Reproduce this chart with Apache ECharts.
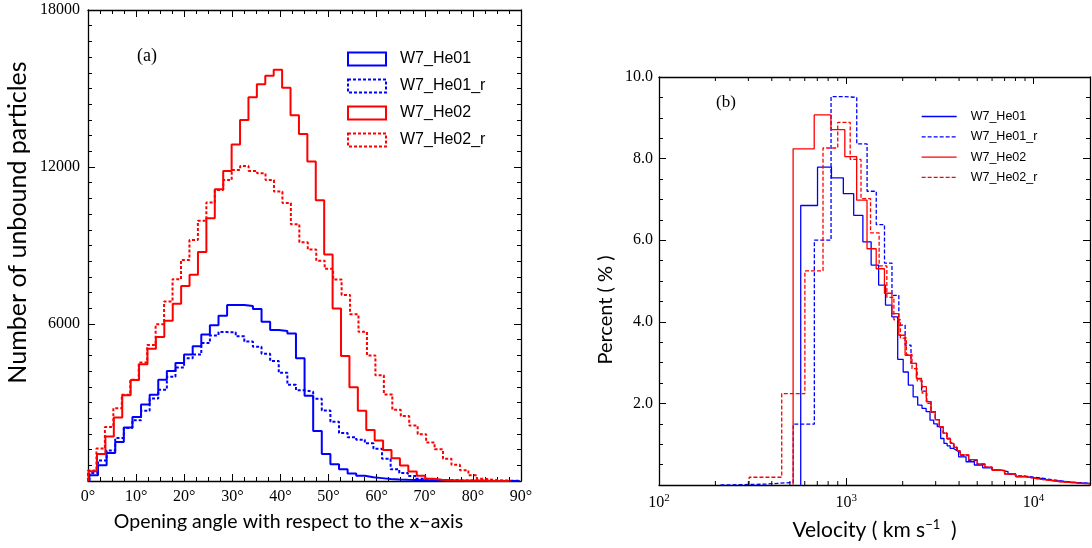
<!DOCTYPE html>
<html>
<head>
<meta charset="utf-8">
<script src="https://cdn.jsdelivr.net/npm/echarts@6/dist/echarts.min.js"></script>
<style>
  html, body { margin: 0; padding: 0; background: #fff; }
  #chart { width: 1092px; height: 548px; }
</style>
</head>
<body>
<div id="chart"></div>
<script>
// ---- panel (a): number of unbound particles per opening-angle bin (deg) ----
const angleStartHe01 = 0.29, angleWidthHe01 = 1.789
const angleStartHe02 = 0.12, angleWidthHe02 = 1.749
const angleStartHe02r = 0, angleWidthHe02r = 1.757

const countsHe01 = [220, 600, 1070, 1490, 2040, 2450, 2920, 3300, 3870, 4200, 4510, 4830, 5150, 5600, 5950, 6320, 6730, 6730, 6690, 6570, 6090, 5770, 5730, 5640, 4690, 3260, 1910, 1030, 640, 450, 290, 200, 140, 110, 80, 60, 45, 35, 25, 20, 15, 12, 10, 8, 6, 5, 4, 3, 2, 2]
const countsHe01r = [310, 780, 1170, 1640, 2030, 2320, 2680, 3150, 3490, 3980, 4340, 4690, 4830, 5270, 5560, 5690, 5680, 5530, 5330, 5130, 4860, 4590, 4135, 3675, 3470, 3410, 3140, 2695, 2260, 1830, 1670, 1580, 1440, 1230, 850, 450, 305, 190, 90, 50, 35, 30, 25, 20, 18, 15, 12, 10, 8, 5]
const countsHe02 = [370, 1030, 1700, 2430, 3280, 3860, 4460, 5050, 5500, 6120, 6770, 7450, 7880, 8750, 10040, 11150, 11850, 12860, 13800, 14670, 15160, 15490, 15720, 15030, 13980, 13260, 12210, 10730, 8660, 6590, 4780, 3580, 2680, 1950, 1550, 1180, 870, 590, 360, 200, 90, 50, 25, 15, 10, 5, 5, 3, 2, 1]
const countsHe02r = [400, 1240, 2060, 2780, 3300, 3870, 4530, 5200, 5990, 6860, 7710, 8450, 9210, 9950, 10640, 11120, 11500, 11890, 12040, 11850, 11760, 11500, 11060, 10620, 9810, 9120, 8850, 8420, 8110, 7700, 7110, 6370, 5700, 4800, 4040, 3310, 2720, 2480, 2120, 1790, 1470, 1210, 850, 620, 410, 220, 85, 40, 20, 10]

// ---- panel (b): percent per velocity bin (km/s), bin edges + values ----
const velEdgesHe01 = [571, 702, 833, 964, 1095, 1226, 1357, 1488, 1619, 1750, 1881, 2012, 2143, 2274, 2405, 2536, 2667, 2798, 2929, 3060, 3191, 3322, 3453, 3584, 3715, 3846, 3977, 4358, 4828, 5346, 6000, 6557, 7300, 8045, 9000, 9870, 11000, 12100, 13500, 14860, 16500, 18220, 20000]
const pctHe01 = [6.85, 7.79, 7.53, 7.14, 6.61, 5.96, 5.39, 4.9, 4.41, 4.12, 3.08, 2.77, 2.45, 2.16, 1.96, 1.88, 1.8, 1.59, 1.5, 1.43, 1.14, 1.02, 0.96, 0.9, 0.86, 0.82, 0.69, 0.57, 0.49, 0.42, 0.37, 0.33, 0.26, 0.2, 0.18, 0.16, 0.12, 0.1, 0.08, 0.065, 0.05, 0.04]
const velEdgesHe01r = [213, 367, 521, 675, 829, 983, 1137, 1291, 1445, 1599, 1753, 1907, 2061, 2215, 2369, 2523, 2677, 2831, 2985, 3139, 3293, 3447, 3601, 3755, 3909, 4063, 4500, 5000, 5500, 6000, 7000, 8000, 9000, 10000, 11000, 12500, 14000, 16000, 18000, 20000]
const pctHe01r = [0.02, 0.065, 1.49, 6.0, 9.52, 9.5, 8.36, 7.2, 6.38, 5.44, 4.65, 3.92, 3.43, 2.98, 2.6, 2.3, 2.05, 1.8, 1.6, 1.42, 1.27, 1.13, 1.02, 0.92, 0.83, 0.72, 0.6, 0.5, 0.43, 0.36, 0.28, 0.22, 0.19, 0.17, 0.13, 0.1, 0.07, 0.05, 0.04]
const velEdgesHe02 = [520, 674, 828, 982, 1136, 1290, 1444, 1598, 1752, 1906, 2060, 2214, 2368, 2522, 2676, 2830, 2984, 3138, 3292, 3446, 3600, 3754, 3908, 4062, 4500, 5000, 5500, 6000, 7000, 8000, 9000, 10000, 11000, 12500, 14000, 16000, 18000, 20000]
const pctHe02 = [8.24, 9.07, 8.71, 8.05, 6.98, 5.79, 5.3, 4.7, 4.2, 3.67, 3.18, 2.98, 2.61, 2.41, 2.04, 1.8, 1.6, 1.42, 1.27, 1.13, 1.02, 0.92, 0.83, 0.74, 0.62, 0.52, 0.44, 0.36, 0.27, 0.21, 0.17, 0.14, 0.11, 0.08, 0.06, 0.04, 0.03]
const velEdgesHe02r = [303, 452, 601, 751, 900, 1049, 1198, 1347, 1497, 1646, 1795, 1944, 2093, 2243, 2392, 2541, 2690, 2839, 2989, 3138, 3287, 3436, 3585, 3735, 3884, 4033, 4500, 5000, 5500, 6000, 7000, 8000, 9000, 10000, 11000, 12500, 14000, 16000, 18000, 20000]
const pctHe02r = [0.19, 2.24, 5.25, 8.26, 8.89, 7.98, 7.02, 6.18, 5.37, 4.6, 4.05, 3.6, 3.2, 2.85, 2.55, 2.25, 2.0, 1.78, 1.6, 1.43, 1.28, 1.15, 1.04, 0.93, 0.84, 0.74, 0.62, 0.52, 0.44, 0.36, 0.27, 0.21, 0.17, 0.14, 0.11, 0.08, 0.06, 0.04, 0.03]

// log-axis minor tick positions (2..9 x 10^k)
const velMinorTicks = [200, 300, 400, 500, 600, 700, 800, 900, 2000, 3000, 4000, 5000, 6000, 7000, 8000, 9000]

const names = ['W7_He01', 'W7_He01_r', 'W7_He02', 'W7_He02_r']
const BLUE = '#0000ff'
const RED = '#ff0000'
const SERIF = 'Liberation Serif'
const SANS = 'Lato'

// histogram outline (step) from uniform bins
const stepUniform = (start, width, counts) => {
  const pts = [[start, 0]]
  counts.forEach((c, i) => {
    pts.push([start + i * width, c], [start + (i + 1) * width, c])
  })
  pts.push([start + counts.length * width, 0])
  return pts
}

// histogram outline (step) from explicit edges
const stepEdges = (edges, vals) => {
  const pts = [[edges[0], 0]]
  vals.forEach((v, i) => {
    pts.push([edges[i], v], [edges[i + 1], v])
  })
  return pts
}

const chart = echarts.init(document.getElementById('chart'))

const frameAxis = {
  axisLine: { show: true, onZero: false, lineStyle: { color: '#000', width: 1.3 } },
  splitLine: { show: false },
}
const majorTick = { inside: true, length: 7, lineStyle: { color: '#000', width: 1 } }

const lineSeries = (name, data, color, dash, width, xi, yi) => ({
  name,
  type: 'line',
  data,
  xAxisIndex: xi,
  yAxisIndex: yi,
  symbol: 'none',
  silent: true,
  animation: false,
  clip: true,
  lineStyle: { color, width, type: dash },
})

const option = {
  animation: false,
  grid: [
    { left: 88, right: 571, top: 10, bottom: 67 },
    { left: 659, right: 2, top: 77, bottom: 63 },
  ],
  xAxis: [
    {
      ...frameAxis, type: 'value', gridIndex: 0, min: 0, max: 90, interval: 10,
      axisTick: majorTick,
      minorTick: { show: true, splitNumber: 4, length: 4, lineStyle: { color: '#000' } },
      axisLabel: { margin: 8, fontFamily: SERIF, fontSize: 16, color: '#000', formatter: (v) => v + '°' },
      name: 'Opening angle with respect to the x\u2212axis',
      nameLocation: 'middle', nameGap: 31,
      nameTextStyle: { fontFamily: SANS, fontSize: 19.5, color: '#000', padding: [0, 32, 0, 0] },
    },
    {
      ...frameAxis, type: 'value', gridIndex: 0, position: 'top', min: 0, max: 90, interval: 10,
      axisTick: majorTick,
      minorTick: { show: true, splitNumber: 4, length: 4, lineStyle: { color: '#000' } },
      axisLabel: { show: false },
    },
    {
      ...frameAxis, type: 'log', logBase: 10, gridIndex: 1, min: 100, max: 20000,
      axisTick: majorTick,
      axisLabel: {
        margin: 8, fontFamily: SERIF, fontSize: 16, color: '#000', showMaxLabel: false,
        formatter: (v) => {
          const k = Math.round(Math.log10(v))
          return Math.abs(Math.pow(10, k) - v) < 1e-6 * v ? '10{sup|' + k + '}' : ''
        },
        rich: { sup: { fontFamily: SERIF, fontSize: 11, color: '#000', verticalAlign: 'top', padding: [0, 0, 9, 0] } },
      },
      name: 'Velocity ( km s{sup|\u22121}  )',
      nameLocation: 'middle', nameGap: 33,
      nameTextStyle: {
        fontFamily: SANS, fontSize: 21, color: '#000',
        rich: { sup: { fontFamily: SANS, fontSize: 13, color: '#000', verticalAlign: 'top', padding: [0, 0, 11, 0] } },
      },
    },
    {
      ...frameAxis, type: 'log', logBase: 10, gridIndex: 1, position: 'top', min: 100, max: 20000,
      axisTick: majorTick,
      axisLabel: { show: false },
    },
  ],
  yAxis: [
    {
      ...frameAxis, type: 'value', gridIndex: 0, min: 0, max: 18000, interval: 6000,
      axisTick: majorTick,
      minorTick: { show: true, splitNumber: 10, length: 4, lineStyle: { color: '#000' } },
      axisLabel: { margin: 8, fontFamily: SERIF, fontSize: 16, color: '#000', formatter: (v) => (v === 0 ? '' : String(v)) },
      name: 'Number of unbound particles',
      nameLocation: 'middle', nameGap: 58,
      nameTextStyle: { fontFamily: SANS, fontSize: 25, color: '#000', padding: [0, 0, 0, 46] },
    },
    {
      ...frameAxis, type: 'value', gridIndex: 0, position: 'right', min: 0, max: 18000, interval: 6000,
      axisTick: majorTick,
      minorTick: { show: true, splitNumber: 10, length: 4, lineStyle: { color: '#000' } },
      axisLabel: { show: false },
    },
    {
      ...frameAxis, type: 'value', gridIndex: 1, min: 0, max: 10, interval: 2,
      axisTick: majorTick,
      minorTick: { show: true, splitNumber: 4, length: 4, lineStyle: { color: '#000' } },
      axisLabel: { margin: 6, fontFamily: SERIF, fontSize: 16, color: '#000', formatter: (v) => (v === 0 ? '' : v.toFixed(1)) },
      name: 'Percent ( % )',
      nameLocation: 'middle', nameGap: 43,
      nameTextStyle: { fontFamily: SANS, fontSize: 20, color: '#000', padding: [0, 58, 0, 0] },
    },
    {
      ...frameAxis, type: 'value', gridIndex: 1, position: 'right', min: 0, max: 10, interval: 2,
      axisTick: majorTick,
      minorTick: { show: true, splitNumber: 4, length: 4, lineStyle: { color: '#000' } },
      axisLabel: { show: false },
    },
  ],
  legend: [
    {
      orient: 'vertical', left: 347, top: 51, padding: 0, itemWidth: 38, itemHeight: 13, itemGap: 11,
      selectedMode: false,
      textStyle: { fontFamily: 'Liberation Sans', fontSize: 16, color: '#000', padding: [0, 0, 0, 9] },
      data: [
        { name: names[0], icon: 'rect', itemStyle: { color: '#fff', borderColor: BLUE, borderWidth: 2, borderType: 'solid' } },
        { name: names[1], icon: 'rect', itemStyle: { color: '#fff', borderColor: BLUE, borderWidth: 2, borderType: [3, 2] } },
        { name: names[2], icon: 'rect', itemStyle: { color: '#fff', borderColor: RED, borderWidth: 2, borderType: 'solid' } },
        { name: names[3], icon: 'rect', itemStyle: { color: '#fff', borderColor: RED, borderWidth: 2, borderType: [3, 2] } },
      ],
    },
    {
      orient: 'vertical', left: 921, top: 110, padding: 0, itemWidth: 35, itemHeight: 10, itemGap: 7.3,
      selectedMode: false,
      textStyle: { fontFamily: 'Liberation Sans', fontSize: 12.5, color: '#000', padding: [0, 0, 0, 9] },
      data: [
        { name: names[0], itemStyle: { opacity: 0 }, lineStyle: { color: BLUE, width: 1.3, type: 'solid' } },
        { name: names[1], itemStyle: { opacity: 0 }, lineStyle: { color: BLUE, width: 1.3, type: [4, 2] } },
        { name: names[2], itemStyle: { opacity: 0 }, lineStyle: { color: RED, width: 1.3, type: 'solid' } },
        { name: names[3], itemStyle: { opacity: 0 }, lineStyle: { color: RED, width: 1.3, type: [4, 2] } },
      ],
    },
  ],
  graphic: [
    { type: 'text', left: 137, top: 47, style: { text: '(a)', font: '18px "Liberation Serif"', fill: '#000' } },
    { type: 'text', left: 716, top: 94, style: { text: '(b)', font: '17px "Liberation Serif"', fill: '#000' } },
  ],
  series: [
    lineSeries(names[0], stepUniform(angleStartHe01, angleWidthHe01, countsHe01), BLUE, 'solid', 2, 0, 0),
    lineSeries(names[1], stepUniform(angleStartHe01, angleWidthHe01, countsHe01r), BLUE, [3, 2], 2, 0, 0),
    lineSeries(names[2], stepUniform(angleStartHe02, angleWidthHe02, countsHe02), RED, 'solid', 2, 0, 0),
    lineSeries(names[3], stepUniform(angleStartHe02r, angleWidthHe02r, countsHe02r), RED, [3, 2], 2, 0, 0),
    lineSeries(names[0], stepEdges(velEdgesHe01, pctHe01), BLUE, 'solid', 1.3, 2, 2),
    lineSeries(names[1], stepEdges(velEdgesHe01r, pctHe01r), BLUE, [4, 2], 1.3, 2, 2),
    lineSeries(names[2], stepEdges(velEdgesHe02, pctHe02), RED, 'solid', 1.3, 2, 2),
    lineSeries(names[3], stepEdges(velEdgesHe02r, pctHe02r), RED, [4, 2], 1.3, 2, 2),
    {
      name: 'minorTicks',
      type: 'custom',
      xAxisIndex: 2,
      yAxisIndex: 2,
      silent: true,
      clip: false,
      z: 5,
      data: velMinorTicks.map((v) => [v]),
      renderItem: (params, api) => {
        const b = api.coord([api.value(0), 0])
        const t = api.coord([api.value(0), 10])
        const st = { stroke: '#000', lineWidth: 1 }
        return {
          type: 'group',
          children: [
            { type: 'line', shape: { x1: b[0], y1: b[1], x2: b[0], y2: b[1] - 4 }, style: st },
            { type: 'line', shape: { x1: t[0], y1: t[1], x2: t[0], y2: t[1] + 4 }, style: st },
          ],
        }
      },
    },
  ],
}

chart.setOption(option)
</script>
</body>
</html>
